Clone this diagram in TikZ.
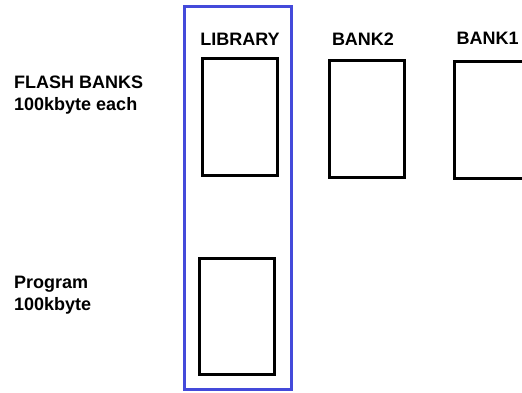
\documentclass[tikz,border=0pt]{standalone}
\usepackage{fontspec}
\setmainfont{Liberation Sans}
\definecolor{frameblue}{RGB}{68,74,218}
\begin{document}
\begin{tikzpicture}[x=1pt,y=-1pt,
  membox/.style={draw=black, line width=3pt, fill=white, minimum width=75pt, minimum height=117pt, inner sep=0pt},
  groupframe/.style={draw=frameblue, line width=3pt, inner sep=0pt},
  label/.style={font=\fontsize{18}{22}\selectfont\bfseries, inner sep=0pt},
  sidetext/.style={font=\fontsize{18}{22}\selectfont\bfseries, inner sep=0pt, anchor=base west, align=left}]
  \useasboundingbox (0,0) rectangle (522,392);
  \clip (0,0) rectangle (522,392);
  \fill[white] (0,0) rectangle (522,392);

  % library column frame
  \node[groupframe, minimum width=107.6pt, minimum height=382.7pt] (frame) at (238,197.9) {};

  % memory blocks
  \node[membox] (lib) at (240,116.7) {};
  \node[membox, minimum height=116.3pt] (prog) at (236.5,316.3) {};
  \node[membox] (bank2) at (367.2,119) {};
  \node[membox] (bank1) at (491.7,119.5) {};

  % headings
  \node[label, anchor=base] (liblabel) at (240,45) {LIBRARY};
  \node[label, anchor=base] (bank2label) at (363,45) {BANK2};
  \node[label, anchor=base west] (bank1label) at (456.5,44) {BANK1};

  % side descriptions
  \node[sidetext] (flashtxt) at (14,88) {FLASH BANKS};
  \node[sidetext] (flashsize) at (14,110) {100kbyte each};
  \node[sidetext] (progtxt) at (14,288.5) {Program};
  \node[sidetext] (progsize) at (14,310) {100kbyte};
\end{tikzpicture}
\end{document}
